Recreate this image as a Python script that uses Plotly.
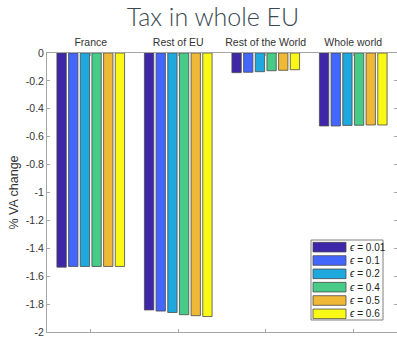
import plotly.graph_objects as go

categories = ["France", "Rest of EU", "Rest of the World", "Whole world"]
eps_labels = ["0.01", "0.1", "0.2", "0.4", "0.5", "0.6"]
values = {
    "0.01": [-1.535, -1.842, -0.141, -0.523],
    "0.1":  [-1.530, -1.850, -0.138, -0.523],
    "0.2":  [-1.530, -1.860, -0.134, -0.519],
    "0.4":  [-1.530, -1.876, -0.127, -0.518],
    "0.5":  [-1.530, -1.883, -0.124, -0.516],
    "0.6":  [-1.530, -1.889, -0.120, -0.516],
}
colors = ["#3e26a8", "#4367fd", "#1fa8de", "#48cb86", "#efb836", "#f9f816"]
ytick_vals = [0, -0.2, -0.4, -0.6, -0.8, -1, -1.2, -1.4, -1.6, -1.8, -2]
ytick_text = ["0", "-0.2", "-0.4", "-0.6", "-0.8", "-1", "-1.2", "-1.4", "-1.6", "-1.8", "-2"]

xpos = [1, 2, 3, 4]

fig = go.Figure()
for lab, col in zip(eps_labels, colors):
    fig.add_trace(go.Bar(
        x=xpos, y=values[lab], name=lab,
        marker=dict(color=col, line=dict(color="#4a4a4a", width=0.8)),
        showlegend=False,
    ))

axis_col = "#a6a6a6"
font_col = "#333333"

fig.update_layout(
    width=397, height=338,
    margin=dict(l=47, r=0, t=53, b=6),
    paper_bgcolor="white", plot_bgcolor="white",
    barmode="group", bargap=0.2, bargroupgap=0.2,
    title=dict(text="Tax in whole EU", x=213 / 397, xanchor="center", y=1 - 17 / 338, yanchor="middle",
               font=dict(family="Lato", size=25, color="#3a4850", weight=300)),
    xaxis=dict(range=[0.5, 4.5], tickvals=xpos, ticktext=categories, side="top",
               showline=True, linecolor=axis_col, linewidth=1, mirror="allticks",
               ticks="inside", ticklen=3, tickcolor=axis_col,
               tickfont=dict(family="Liberation Sans", size=10.5, color=font_col),
               showgrid=False, zeroline=False, ticklabelstandoff=2),
    yaxis=dict(range=[-2, 0], tickvals=ytick_vals, ticktext=ytick_text,
               showline=True, linecolor=axis_col, linewidth=1, mirror="allticks",
               ticks="inside", ticklen=3, tickcolor=axis_col,
               tickfont=dict(family="Liberation Sans", size=10.5, color=font_col),
               showgrid=False, zeroline=False,
               title=dict(text="% VA change", font=dict(family="Liberation Sans", size=12.5, color=font_col), standoff=4)),
)

# Custom MATLAB-style legend (wide swatches)
lx0, lx1 = 311, 383
ly0, ly1 = 240, 320
W, H = 397, 338
def px(x):
    return (x - 47) / (W - 47)
def py(y):
    return 1 - (y - 53) / (H - 53 - 6)

fig.add_shape(type="rect", xref="paper", yref="paper",
              x0=px(lx0), x1=px(lx1), y0=py(ly1), y1=py(ly0),
              line=dict(color="#7f7f7f", width=1), fillcolor="white", layer="above")
row_h = (ly1 - ly0) / len(eps_labels)
for i, (lab, col) in enumerate(zip(eps_labels, colors)):
    yc = ly0 + row_h * (i + 0.5) + 0.5
    fig.add_shape(type="rect", xref="paper", yref="paper",
                  x0=px(313), x1=px(346), y0=py(yc + 4.8), y1=py(yc - 4.8),
                  line=dict(color="#4a4a4a", width=0.8), fillcolor=col, layer="above")
    fig.add_annotation(xref="paper", yref="paper", x=px(348), y=py(yc),
                       text="<i>ϵ</i> = " + lab, showarrow=False, xanchor="left", yanchor="middle",
                       font=dict(family="Liberation Sans", size=10, color="#222222"))

fig.write_html("out.html")
